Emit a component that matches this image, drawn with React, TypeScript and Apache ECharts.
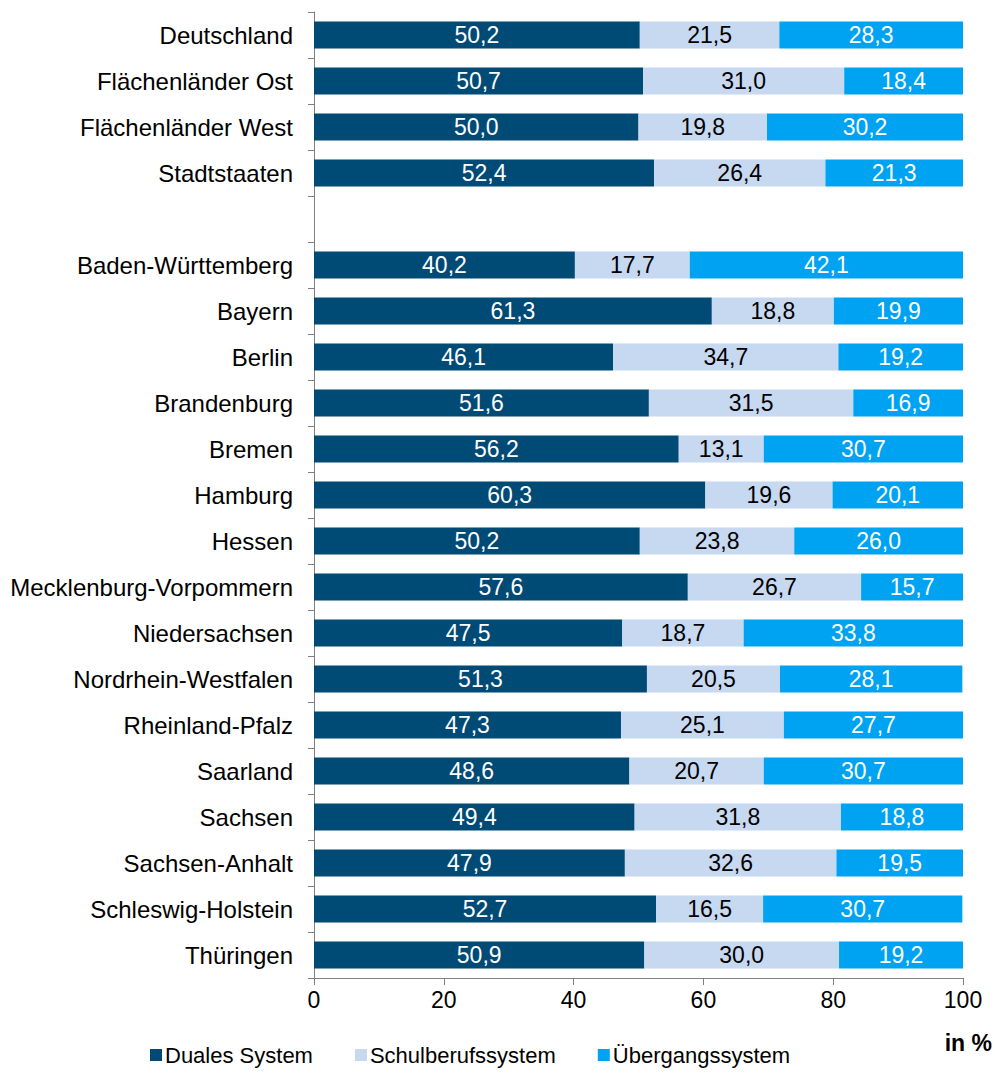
import React, { useEffect, useRef } from "react";
import * as echarts from "echarts";

const categories = [
  "Deutschland",
  "Flächenländer Ost",
  "Flächenländer West",
  "Stadtstaaten",
  "",
  "Baden-Württemberg",
  "Bayern",
  "Berlin",
  "Brandenburg",
  "Bremen",
  "Hamburg",
  "Hessen",
  "Mecklenburg-Vorpommern",
  "Niedersachsen",
  "Nordrhein-Westfalen",
  "Rheinland-Pfalz",
  "Saarland",
  "Sachsen",
  "Sachsen-Anhalt",
  "Schleswig-Holstein",
  "Thüringen",
];

const dualesSystem = [50.2, 50.7, 50.0, 52.4, null, 40.2, 61.3, 46.1, 51.6, 56.2, 60.3, 50.2, 57.6, 47.5, 51.3, 47.3, 48.6, 49.4, 47.9, 52.7, 50.9];
const schulberufssystem = [21.5, 31.0, 19.8, 26.4, null, 17.7, 18.8, 34.7, 31.5, 13.1, 19.6, 23.8, 26.7, 18.7, 20.5, 25.1, 20.7, 31.8, 32.6, 16.5, 30.0];
const uebergangssystem = [28.3, 18.4, 30.2, 21.3, null, 42.1, 19.9, 19.2, 16.9, 30.7, 20.1, 26.0, 15.7, 33.8, 28.1, 27.7, 30.7, 18.8, 19.5, 30.7, 19.2];

const seriesNames = ["Duales System", "Schulberufssystem", "Übergangssystem"];
const seriesColors = ["#004A76", "#C6D9F1", "#00A2F2"];
const labelColors = ["#FFFFFF", "#000000", "#FFFFFF"];
const xTicks = [0, 20, 40, 60, 80, 100];

const FONT = "'Liberation Sans', Arial, sans-serif";

export default function App() {
  const ref = useRef<HTMLDivElement>(null);
  useEffect(() => {
    if (!ref.current) return;
    const chart = echarts.init(ref.current, null, { renderer: "svg" });
    const dataSets = [dualesSystem, schulberufssystem, uebergangssystem];
    chart.setOption({
      animation: false,
      textStyle: { fontFamily: FONT },
      grid: { left: 314, right: 32, top: 12, height: 966, containLabel: false },
      legend: {
        left: 150,
        top: 1044,
        itemWidth: 12,
        itemHeight: 12,
        itemGap: 42,
        icon: "rect",
        padding: 0,
        textStyle: { fontSize: 22, color: "#000", fontFamily: FONT, padding: [0, 0, 0, -2] },
        data: seriesNames,
      },
      xAxis: {
        type: "value",
        min: xTicks[0],
        max: xTicks[xTicks.length - 1],
        interval: 20,
        splitLine: { show: false },
        axisLine: { show: true, lineStyle: { color: "#808080", width: 1 } },
        axisTick: { show: true, length: 7, lineStyle: { color: "#808080" } },
        axisLabel: { fontSize: 23, color: "#000", margin: 10, fontFamily: FONT },
      },
      yAxis: {
        type: "category",
        inverse: true,
        data: categories,
        axisLine: { show: true, lineStyle: { color: "#808080", width: 1 } },
        axisTick: { show: true, length: 6, inside: false, alignWithLabel: false, lineStyle: { color: "#808080" } },
        axisLabel: { fontSize: 24, color: "#000", margin: 21, fontFamily: FONT },
      },
      graphic: [
        {
          type: "text",
          right: 3,
          top: 1031,
          style: { text: "in %", fontSize: 23, fontWeight: "bold", fill: "#000", fontFamily: FONT },
        },
      ],
      series: dataSets.map((d, i) => ({
        name: seriesNames[i],
        type: "bar",
        stack: "total",
        barWidth: 27,
        data: d.map((v) => (v === null ? "-" : v)),
        itemStyle: { color: seriesColors[i] },
        label: {
          show: true,
          position: "inside",
          color: labelColors[i],
          fontSize: 23,
          fontFamily: FONT,
          formatter: (p: any) =>
            typeof p.value === "number" ? p.value.toFixed(1).replace(".", ",") : "",
        },
      })),
    });
    return () => chart.dispose();
  }, []);
  return (
    <div
      ref={ref}
      style={{ position: "absolute", left: 0, top: 0, width: 995, height: 1077, background: "#fff" }}
    />
  );
}
